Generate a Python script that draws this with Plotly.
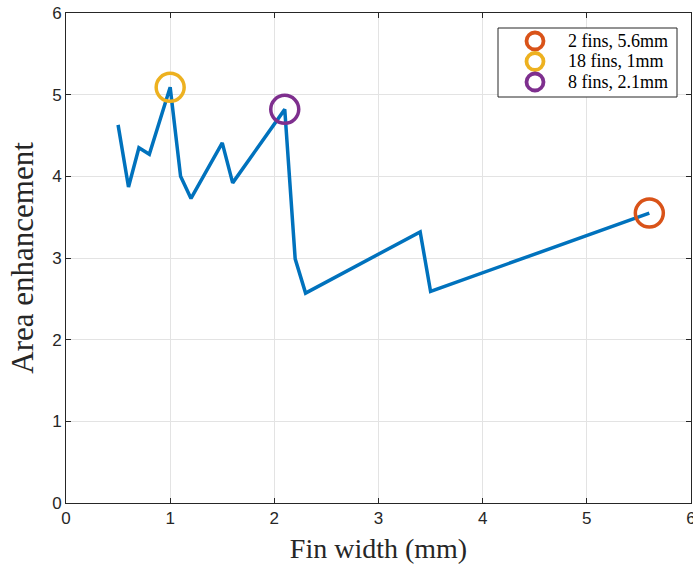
import plotly.graph_objects as go

fin_width = [0.5, 0.6, 0.7, 0.8, 1.0, 1.1, 1.2, 1.5, 1.6, 2.1, 2.2, 2.3, 3.4, 3.5, 5.6]
area_enh = [4.63, 3.87, 4.35, 4.27, 5.09, 4.0, 3.73, 4.41, 3.92, 4.82, 2.99, 2.57, 3.32, 2.59, 3.55]

hl_names = ["2 fins, 5.6mm", "18 fins, 1mm", "8 fins, 2.1mm"]
hl_x = [5.6, 1.0, 2.1]
hl_y = [3.55, 5.09, 4.82]
hl_colors = ["#D95319", "#EDB120", "#7E2F8E"]

x_ticks = [0, 1, 2, 3, 4, 5, 6]
y_ticks = [0, 1, 2, 3, 4, 5, 6]

W, H = 693, 570
ML, MR, MT, MB = 66, 2, 13, 67
PW, PH = W - ML - MR, H - MT - MB


def px_x(p):
    return (p - ML) / PW


def px_y(p):
    return (H - MB - p) / PH


fig = go.Figure()
fig.add_trace(go.Scatter(x=fin_width, y=area_enh, mode="lines",
                         line=dict(color="#0072BD", width=3.5), showlegend=False))
for n, xv, yv, c in zip(hl_names, hl_x, hl_y, hl_colors):
    fig.add_trace(go.Scatter(x=[xv], y=[yv], mode="markers", name=n, showlegend=False,
                             marker=dict(symbol="circle-open", size=28, color=c,
                                         line=dict(width=3.5, color=c))))

# legend box (drawn as shapes + annotations to mimic MATLAB legend)
shapes = [dict(type="rect", xref="paper", yref="paper",
               x0=px_x(498), x1=px_x(677), y0=px_y(97), y1=px_y(28),
               line=dict(color="#262626", width=1), fillcolor="white", layer="above")]
annotations = []
row_y = [41, 61.5, 82]
for n, c, ry in zip(hl_names, hl_colors, row_y):
    shapes.append(dict(type="circle", xref="paper", yref="paper",
                       xsizemode="pixel", ysizemode="pixel",
                       xanchor=px_x(535), yanchor=px_y(ry),
                       x0=-8.5, x1=8.5, y0=-8.5, y1=8.5,
                       line=dict(color=c, width=3.8), layer="above"))
    annotations.append(dict(text=n, xref="paper", yref="paper",
                            x=px_x(567), y=px_y(ry), xanchor="left", yanchor="middle",
                            showarrow=False, borderpad=0,
                            font=dict(family="Liberation Serif, DejaVu Serif", size=18, color="#000000")))

axis_common = dict(showline=True, linecolor="#262626", linewidth=1, mirror="ticks",
                   ticks="inside", ticklen=5, tickcolor="#262626",
                   showgrid=True, gridcolor="#e3e3e3", gridwidth=1, zeroline=False,
                   ticklabeloverflow="allow", automargin=False,
                   tickfont=dict(family="Liberation Sans, Arial", size=17, color="#262626"))

fig.update_layout(
    width=W, height=H,
    margin=dict(l=ML, r=MR, t=MT, b=MB),
    paper_bgcolor="white", plot_bgcolor="white",
    showlegend=False,
    shapes=shapes, annotations=annotations,
    xaxis=dict(range=[0, 6], tickvals=x_ticks, **axis_common,
               title=dict(text="Fin width (mm)", standoff=10,
                          font=dict(family="Liberation Serif, DejaVu Serif", size=28, color="#262626"))),
    yaxis=dict(range=[0, 6], tickvals=y_ticks, **axis_common,
               title=dict(text="Area enhancement", standoff=9,
                          font=dict(family="Liberation Serif, DejaVu Serif", size=31, color="#262626"))),
)

fig.write_html("out.html")
